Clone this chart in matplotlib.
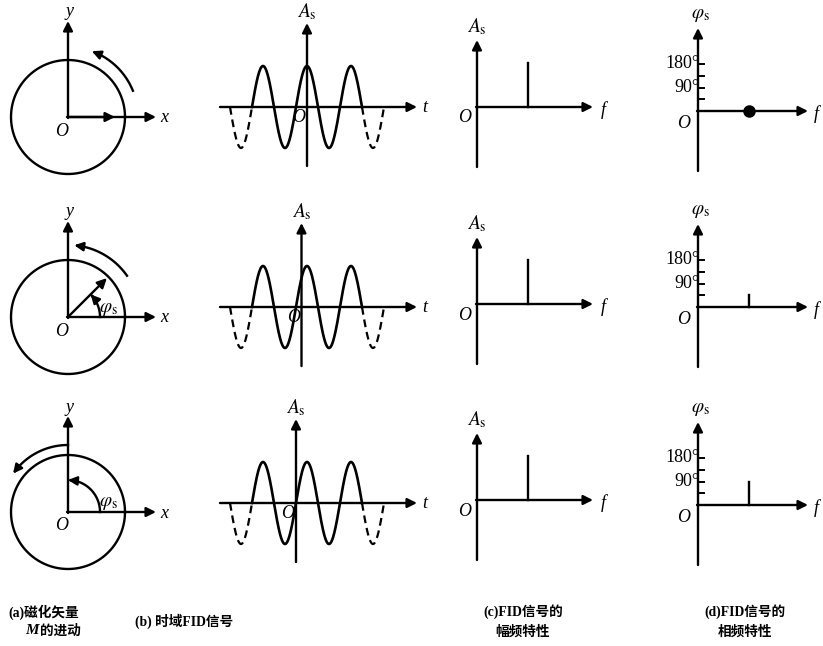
import numpy as np
import matplotlib
matplotlib.use("Agg")
import matplotlib.pyplot as plt

plt.rcParams['font.family'] = ['Liberation Serif', 'Noto Sans CJK SC']
plt.rcParams['mathtext.fontset'] = 'stix'

# data
phases_deg = [0, 45, 90]          # 每行的初相位 φs
amplitudes = [1.0, 1.0, 1.0]      # FID 信号幅值
freq = 1.0                        # 信号频率 (任意单位)
solid_periods = 1.25              # 实线部分 (周期数)
dashed_periods = 1.75             # 虚线延伸 (周期数)
phase_ticks = [45, 90, 135, 180]
phase_labels = {90: '90°', 180: '180°'}
captions = [['(a)磁化矢量', '的进动'], ['(b) 时域FID信号'],
            ['(c)FID信号的', '幅频特性'], ['(d)FID信号的', '相频特性']]

# layout (pixels)
row_a = [117, 317, 512]
row_b = [107, 307, 503]
row_c = [107, 304, 500]
row_d = [111, 307, 505]
cx_a, cx_c, cx_d = 68, 477, 698
wave_cx = 307
R = 57
per_px = 44.0        # 一个周期的像素
amp_px = 41.0
spec_amp_px = 44.0
spec_f_px = 51.0
deg_px = 23.5 / 90
rot_arcs = [(22, 70, 70), (35, 85, 72), (90, 145, 67)]

LW = 1.7
fig = plt.figure(figsize=(8.23, 6.46), dpi=100)
ax = fig.add_axes([0, 0, 1, 1])
ax.set_xlim(0, 823)
ax.set_ylim(646, 0)
ax.axis('off')


def arrow(x0, y0, x1, y1, ms=14):
    ax.annotate('', xy=(x1, y1), xytext=(x0, y0),
                arrowprops=dict(arrowstyle='-|>', lw=LW, color='k',
                                mutation_scale=ms, shrinkA=0, shrinkB=0))


def arc(cx, cy, r, a0, a1, head=True):
    th = np.radians(np.linspace(a0, a1, 60))
    xs = cx + r * np.cos(th)
    ys = cy - r * np.sin(th)
    ax.plot(xs[:-3], ys[:-3], color='k', lw=LW)
    if head:
        arrow(xs[-8], ys[-8], xs[-1], ys[-1], ms=13)


def txt(x, y, s, size=13, **kw):
    ax.text(x, y, s, fontsize=size, ha='center', va='center', **kw)


for i, ph in enumerate(phases_deg):
    # (a) 磁化矢量
    cy = row_a[i]
    th = np.linspace(0, 2 * np.pi, 200)
    ax.plot(cx_a + R * np.cos(th), cy - R * np.sin(th), color='k', lw=LW)
    arrow(cx_a, cy + 1, cx_a, cy - 96)
    arrow(cx_a - 1, cy, cx_a + 88, cy)
    vx = cx_a + (R - 2) * np.cos(np.radians(ph))
    vy = cy - (R - 2) * np.sin(np.radians(ph))
    if ph == 0:
        arrow(cx_a, cy, vx - 8, vy)
    elif ph < 90:
        arrow(cx_a, cy, vx, vy)
    if ph > 0:
        arc(cx_a, cy, 32, 0, ph)
        txt(cx_a + 40, cy - 8, r'$\varphi_\mathrm{s}$', size=14)
    a0, a1, rr = rot_arcs[i]
    arc(cx_a, cy, rr, a0, a1)
    txt(cx_a + 2, cy - 105, 'y', style='italic')
    txt(cx_a + 96, cy + 1, 'x', style='italic')
    txt(cx_a - 6, cy + 14, 'O', style='italic')

    # (b) 时域 FID 信号
    yb = row_b[i]
    t0 = ph / 360.0 / freq
    xax = wave_cx - t0 * per_px
    arrow(220, yb, 417, yb)
    arrow(xax, yb + 59, xax, yb - 84)
    T = 1.0 / freq
    ts = np.linspace(t0 - solid_periods * T, t0 + solid_periods * T, 400)
    ax.plot(wave_cx + (ts - t0) * per_px,
            yb - amplitudes[i] * amp_px * np.cos(2 * np.pi * freq * ts - np.radians(ph)),
            color='k', lw=1.9)
    for sgn in (-1, 1):
        lo, hi = sorted([t0 + sgn * solid_periods * T, t0 + sgn * dashed_periods * T])
        td = np.linspace(lo, hi, 100)
        ax.plot(wave_cx + (td - t0) * per_px,
                yb - amplitudes[i] * amp_px * np.cos(2 * np.pi * freq * td - np.radians(ph)),
                color='k', lw=1.6, ls=(0, (3.5, 2.2)))
    txt(425, yb + 1, 't', style='italic')
    txt(xax, yb - 95, r'$A_\mathrm{s}$', size=14)
    txt(xax - 8, yb + 11, 'O', style='italic')

    # (c) 幅频特性
    yc = row_c[i]
    arrow(cx_c, yc + 60, cx_c, yc - 67)
    arrow(cx_c - 1, yc, cx_c + 116, yc)
    ax.plot([cx_c + freq * spec_f_px] * 2, [yc, yc - amplitudes[i] * spec_amp_px],
            color='k', lw=LW)
    txt(cx_c + 126, yc + 3, 'f', style='italic')
    txt(cx_c, yc - 80, r'$A_\mathrm{s}$', size=14)
    txt(cx_c - 12, yc + 11, 'O', style='italic')

    # (d) 相频特性
    yd = row_d[i]
    arrow(cx_d, yd + 60, cx_d, yd - 83)
    arrow(cx_d - 1, yd, cx_d + 110, yd)
    for tk in phase_ticks:
        ty = yd - tk * deg_px
        ax.plot([cx_d, cx_d + 6], [ty, ty], color='k', lw=1.4)
        if tk in phase_labels:
            ax.text(cx_d + 2, ty, phase_labels[tk], fontsize=13,
                    ha='right', va='center')
    fx = cx_d + freq * spec_f_px
    if ph == 0:
        ax.plot(fx, yd, 'o', color='k', ms=8)
    else:
        ax.plot([fx, fx], [yd, yd - ph * deg_px], color='k', lw=LW)
    txt(cx_d + 118, yd + 3, 'f', style='italic')
    txt(cx_d + 2, yd - 96, r'$\varphi_\mathrm{s}$', size=14)
    txt(cx_d - 14, yd + 12, 'O', style='italic')

# captions
cap_kw = dict(fontsize=9.8, va='center', weight='bold')
ax.text(8, 612, captions[0][0], ha='left', **cap_kw)
ax.text(32, 631, 'M', ha='center', fontsize=11, va='center',
        style='italic', weight='bold')
ax.text(40, 631, captions[0][1], ha='left', **cap_kw)
ax.text(184, 621, captions[1][0], ha='center', **cap_kw)
ax.text(523, 612, captions[2][0], ha='center', **cap_kw)
ax.text(523, 632, captions[2][1], ha='center', **cap_kw)
ax.text(745, 612, captions[3][0], ha='center', **cap_kw)
ax.text(745, 632, captions[3][1], ha='center', **cap_kw)

fig.savefig('out.png', dpi=100)
